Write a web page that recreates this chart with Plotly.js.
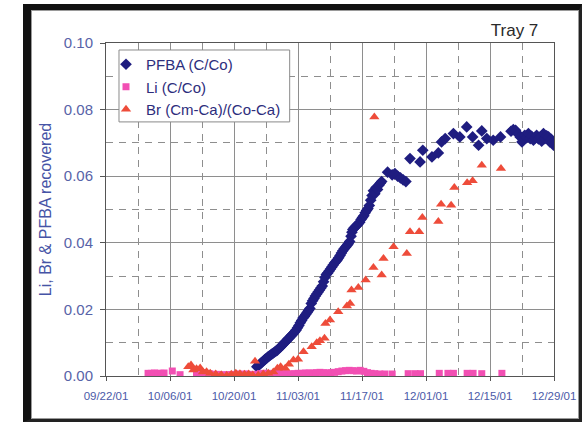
<!DOCTYPE html>
<html>
<head>
<meta charset="utf-8">
<script src="https://cdn.plot.ly/plotly-3.0.1.min.js"></script>
<style>
  html, body { margin: 0; padding: 0; background: #ffffff; }
  #wrap { position: relative; width: 587px; height: 423px; }
  #chart { position: absolute; left: 0; top: 0; width: 587px; height: 423px; }
  #frame {
    position: absolute; left: 23px; top: 4px; width: 559px; height: 418px;
    box-sizing: border-box; pointer-events: none;
    border-left: 8px solid #111; border-top: 6px solid #111;
    border-right: 3px solid #222; border-bottom: 3px solid #222;
    box-shadow: inset 0 0 0 1px #9a9a9a;
  }
</style>
</head>
<body>
<div id="wrap">
  <div id="chart"></div>
  <div id="frame"></div>
</div>
<script>
// ---- data (day offsets counted from 09/22/2001) ----
const startDate = '2001-09-22';

const pfbaDay = [33.0,33.3,33.6,33.9,34.2,34.5,34.8,35.1,35.4,35.7,36.0,36.3,36.6,36.9,37.2,37.5,
  38.0,38.3,38.6,38.9,39.2,39.5,39.8,40.1,40.4,40.7,41.0,41.3,41.6,41.9,42.2,42.5,42.8,43.1,43.4,43.7,
  44.0,44.3,44.6,44.9,45.2,45.5,45.8,46.1,46.4,46.7,47.0,47.3,47.6,47.9,48.2,48.5,48.8,49.1,49.4,49.7,
  50.0,50.3,50.6,50.9,51.2,51.5,51.8,52.1,52.4,52.7,53.0,53.3,53.6,53.8,54.0,54.3,54.6,54.9,55.2,55.5,
  55.8,56.1,56.4,56.7,57.0,57.3,57.6,57.9,58.2,58.5,58.8,59.1,59.4,59.7,60.0,60.3,61.6,62.6,63.2,63.8,
  64.4,65.0,65.6,66.5,68.7,69.3,71.3,72.7,73.4,74.2,76.0,77.4,78.9,80.2,81.5,82.2,83.3,84.7,86.3,
  88.6,89.1,89.6,90.2,90.6,91.0,91.3,91.6,92.0,92.4,92.8,93.1,93.5,93.9,94.2,94.6,95.0,95.3,95.7,
  96.0,96.4,96.8,97.1,97.4,97.6,97.9];
const pfbaVal = [0.0028,0.0031,0.0035,0.0039,0.0042,0.0046,0.0050,0.0053,0.0057,0.0060,0.0063,0.0066,0.0069,0.0072,0.0075,0.0078,
  0.0085,0.0089,0.0093,0.0098,0.0102,0.0106,0.0111,0.0115,0.0119,0.0124,0.0128,0.0133,0.0138,0.0145,0.0152,0.0160,0.0167,0.0174,0.0179,0.0185,
  0.0191,0.0197,0.0203,0.0218,0.0226,0.0233,0.0240,0.0246,0.0252,0.0258,0.0264,0.0270,0.0283,0.0296,0.0305,0.0309,0.0315,0.0321,0.0327,0.0333,
  0.0339,0.0344,0.0349,0.0355,0.0362,0.0369,0.0376,0.0382,0.0387,0.0392,0.0397,0.0404,0.0420,0.0432,0.0440,0.0445,0.0449,0.0453,0.0457,0.0462,
  0.0470,0.0476,0.0481,0.0490,0.0497,0.0503,0.0512,0.0528,0.0542,0.0556,0.0547,0.0566,0.0560,0.0573,0.0579,0.0584,0.0612,0.0604,0.0608,0.0600,
  0.0595,0.0589,0.0584,0.0653,0.0643,0.0678,0.0658,0.0670,0.0703,0.0713,0.0728,0.0718,0.0748,0.0718,0.0693,0.0736,0.0713,0.0708,0.0718,
  0.0735,0.0740,0.0738,0.0726,0.0718,0.0703,0.0714,0.0723,0.0716,0.0728,0.0713,0.0720,0.0708,0.0715,0.0723,0.0712,0.0718,0.0705,0.0728,
  0.0713,0.0721,0.0718,0.0703,0.0711,0.0700,0.0693];

const liDay = [9.2,9.9,10.6,11.3,12.0,12.7,14.5,16.2,19.8,20.5,21.2,21.9,22.6,23.4,24.2,25.0,25.8,26.6,27.4,28.2,
  29.0,29.8,30.6,31.4,32.2,33.0,33.8,34.6,35.4,36.2,37.2,38.0,38.8,39.6,40.4,41.2,42.0,42.8,43.6,44.4,
  45.2,46.0,46.8,47.6,48.4,49.2,50.0,50.8,51.6,52.4,53.2,54.0,54.8,55.6,56.4,57.2,58.0,58.8,59.9,61.0,
  62.6,66.1,67.6,68.8,72.9,74.8,76.0,79.0,80.3,82.2,86.6];
const liVal = [0.0008,0.0008,0.0009,0.0008,0.0008,0.0009,0.0015,0.0004,0.0009,0.0008,0.0010,0.0008,0.0007,0.0005,0.0005,0.0004,0.0003,0.0004,0.0004,0.0005,
  0.0006,0.0005,0.0006,0.0005,0.0004,0.0005,0.0007,0.0008,0.0008,0.0007,0.0008,0.0008,0.0007,0.0007,0.0006,0.0007,0.0008,0.0008,0.0009,0.0009,
  0.0009,0.0010,0.0011,0.0010,0.0009,0.0010,0.0011,0.0013,0.0015,0.0016,0.0017,0.0016,0.0015,0.0017,0.0014,0.0010,0.0008,0.0007,0.0006,0.0006,
  0.0006,0.0007,0.0007,0.0007,0.0008,0.0008,0.0008,0.0008,0.0008,0.0007,0.0008];

const brDay = [18.0,18.6,19.1,19.8,20.6,21.2,22.0,22.8,24.0,25.2,26.4,27.4,28.4,29.3,30.3,31.2,32.1,32.6,33.3,34.4,
  35.5,36.6,37.5,38.2,39.2,40.0,41.0,42.0,43.2,45.0,46.1,46.8,47.8,48.0,49.0,50.8,52.7,53.4,53.7,55.2,
  56.8,58.5,58.7,60.3,60.7,62.9,65.8,66.5,68.5,69.2,72.7,73.3,75.5,76.2,79.0,80.2,82.2,86.4];
const brVal = [0.0028,0.0033,0.0018,0.0022,0.0024,0.0012,0.0013,0.0008,0.0006,0.0004,0.0002,0.0005,0.0008,0.0007,0.0005,0.0006,0.0003,0.0044,0.0002,0.0006,
  0.0008,0.0012,0.0023,0.0028,0.0023,0.0035,0.0048,0.0050,0.0073,0.0088,0.0100,0.0106,0.0113,0.0158,0.0168,0.0193,0.0210,0.0218,0.0258,0.0266,
  0.0288,0.0326,0.0778,0.0303,0.0353,0.0388,0.0368,0.0433,0.0433,0.0476,0.0464,0.0516,0.0513,0.0566,0.0580,0.0586,0.0633,0.0623];

const seriesNames = ['PFBA (C/Co)', 'Li (C/Co)', 'Br (Cm-Ca)/(Co-Ca)'];
const chartTitle = 'Tray 7';
const yTitle = 'Li, Br &amp; PFBA recovered';
const xRange = ['2001-09-22', '2001-12-29'];
const yRange = [0, 0.10];

// ---- build ----
const base = Date.UTC(2001, 8, 22);
const toDate = d => base + d * 86400000;

const traces = [
  { x: pfbaDay.map(toDate), y: pfbaVal, name: seriesNames[0], type: 'scatter', mode: 'markers',
    marker: { symbol: 'diamond', size: 9, color: '#1f1d80' } },
  { x: liDay.map(toDate), y: liVal, name: seriesNames[1], type: 'scatter', mode: 'markers',
    marker: { symbol: 'square', size: 7, color: '#f24fb3' } },
  { x: brDay.map(toDate), y: brVal, name: seriesNames[2], type: 'scatter', mode: 'markers',
    marker: { symbol: 'triangle-up', size: 9, color: '#ee4c3a' } }
];

const DAY = 86400000;
const layout = {
  width: 587, height: 423,
  margin: { l: 106, r: 33, t: 43, b: 47, pad: 0 },
  paper_bgcolor: '#ffffff', plot_bgcolor: '#ffffff',
  font: { family: 'Liberation Sans, Arial, sans-serif', color: '#4b58a6' },
  title: { text: chartTitle, font: { size: 17, color: '#2a2a2a' },
           xref: 'paper', x: 0.965, xanchor: 'right', yref: 'container', y: 0.93, yanchor: 'middle' },
  showlegend: true,
  legend: { x: 0.0, xanchor: 'left', y: 0.985, yanchor: 'top', bgcolor: 'rgba(0,0,0,0)', borderwidth: 0,
            font: { size: 15, color: '#2d2d7c' }, tracegroupgap: 0 },
  xaxis: {
    type: 'date', range: xRange, autorange: false,
    tick0: startDate, dtick: 14 * DAY, tickformat: '%m/%d/%y',
    tickfont: { size: 11.5, color: '#4b5aa8' },
    ticks: 'outside', ticklen: 4, tickcolor: '#555', ticklabelstandoff: 5,
    showgrid: true, gridcolor: '#8e8e8e', gridwidth: 1,
    minor: { dtick: 7 * DAY, tick0: startDate, showgrid: true, gridcolor: '#8e8e8e', griddash: '7px,6px', gridwidth: 1 },
    showline: true, linecolor: '#555', linewidth: 1, mirror: true, zeroline: false, fixedrange: true
  },
  yaxis: {
    range: yRange, autorange: false, dtick: 0.02, tick0: 0, tickformat: '.2f',
    tickfont: { size: 15, color: '#5863a8' },
    ticks: 'outside', ticklen: 5, tickcolor: '#555', ticklabelstandoff: 4,
    showgrid: true, gridcolor: '#8e8e8e', gridwidth: 1,
    minor: { dtick: 0.01, tick0: 0, showgrid: true, gridcolor: '#8e8e8e', griddash: '7px,6px', gridwidth: 1 },
    showline: true, linecolor: '#555', linewidth: 1, mirror: true, zeroline: false, fixedrange: true,
    title: { text: yTitle, font: { size: 16, color: '#4654a6' }, standoff: 8 }
  },
  shapes: [
    { type: 'rect', xref: 'paper', yref: 'paper', x0: 0.029, x1: 0.41, y0: 0.763, y1: 0.979,
      fillcolor: '#ffffff', line: { color: '#8a8a8a', width: 1 }, layer: 'above' }
  ]
};

Plotly.newPlot('chart', traces, layout, { staticPlot: true, displayModeBar: false });
</script>
</body>
</html>
